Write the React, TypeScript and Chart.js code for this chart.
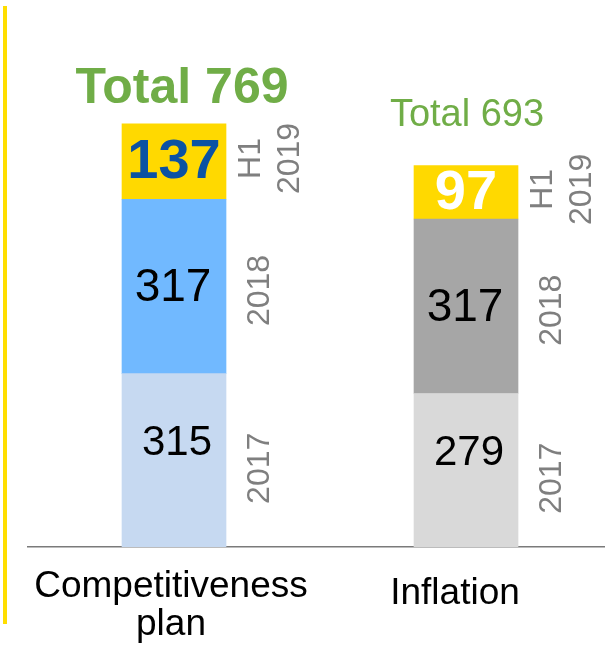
import React, { useEffect, useRef } from "react";
import { Chart, registerables } from "chart.js";

Chart.register(...registerables);

const categories: string[][] = [["Competitiveness", "plan"], ["Inflation"]];
const seriesNames = ["2017", "2018", "H1 2019"];
const values2017 = [315, 279];
const values2018 = [317, 317];
const valuesH1 = [137, 97];
const totals = [769, 693];

const FONT = "'Liberation Sans', Arial, sans-serif";

const colors2017 = ["#c6d9f1", "#d9d9d9"];
const colors2018 = ["#71b9ff", "#a6a6a6"];
const colorsH1 = ["#ffd900", "#ffd900"];

const valueStyles = [
  { font: `42px ${FONT}`, colors: ["#000000", "#000000"], dy: -17, dx: 3 },
  { font: `46px ${FONT}`, colors: ["#000000", "#000000"], dy: 2, dx: -1 },
  { font: `bold 56px ${FONT}`, colors: ["#0b52a3", "#ffffff"], dy: 1, dx: 0 },
];
const yearDy = [8, 4, -3];
const categoryDx = [-3, -11];

const totalStyles = [
  { font: `bold 50px ${FONT}`, dx: 8, gap: 21 },
  { font: `38px ${FONT}`, dx: 1, gap: 40 },
];

const labelPlugin = {
  id: "labels",
  beforeDraw(chart: any) {
    const ctx = chart.ctx;
    ctx.save();
    ctx.fillStyle = "#ffde00";
    ctx.fillRect(3, 6, 4, 618);
    ctx.restore();
  },
  afterDatasetsDraw(chart: any) {
    const ctx = chart.ctx;
    const xScale = chart.scales.x;
    ctx.save();
    chart.data.datasets.forEach((ds: any, di: number) => {
      const meta = chart.getDatasetMeta(di);
      meta.data.forEach((el: any, i: number) => {
        const cy = (el.y + el.base) / 2;
        const st = valueStyles[di];
        ctx.font = st.font;
        ctx.fillStyle = st.colors[i];
        ctx.textAlign = "center";
        ctx.textBaseline = "middle";
        ctx.fillText(String(ds.data[i].y), el.x + st.dx, cy + st.dy);

        const right = el.x + el.width / 2;
        const lines = seriesNames[di].split(" ");
        ctx.font = `32px ${FONT}`;
        ctx.fillStyle = "#7f7f7f";
        const yy = cy + yearDy[di];
        if (lines.length === 1) {
          ctx.save();
          ctx.translate(right + 34, yy);
          ctx.rotate(-Math.PI / 2);
          ctx.fillText(lines[0], 0, 0);
          ctx.restore();
        } else {
          lines.forEach((ln: string, li: number) => {
            ctx.save();
            ctx.translate(right + 25 + li * 39, yy);
            ctx.rotate(-Math.PI / 2);
            ctx.fillText(ln, 0, 0);
            ctx.restore();
          });
        }
      });
    });
    const topMeta = chart.getDatasetMeta(2);
    topMeta.data.forEach((el: any, i: number) => {
      const st = totalStyles[i];
      ctx.font = st.font;
      ctx.fillStyle = "#70ad47";
      ctx.textAlign = "center";
      ctx.textBaseline = "alphabetic";
      ctx.fillText(`Total ${totals[i]}`, el.x + st.dx, el.y - st.gap);
    });
    ctx.font = `37px ${FONT}`;
    ctx.fillStyle = "#000000";
    ctx.textAlign = "center";
    ctx.textBaseline = "alphabetic";
    categories.forEach((lines, i) => {
      const x = xScale.getPixelForValue(i) + categoryDx[i];
      if (lines.length === 1) {
        ctx.fillText(lines[0], x, 604);
      } else {
        lines.forEach((ln, li) => ctx.fillText(ln, x, 597 + li * 38));
      }
    });
    ctx.restore();
  },
};

export default function App() {
  const ref = useRef<HTMLCanvasElement>(null);
  useEffect(() => {
    document.body.style.margin = "0";
    const toXY = (arr: number[]) => arr.map((v, i) => ({ x: i, y: v }));
    const chart = new Chart(ref.current!, {
      type: "bar",
      data: {
        datasets: [
          { label: seriesNames[0], data: toXY(values2017), backgroundColor: colors2017, barThickness: 104 },
          { label: seriesNames[1], data: toXY(values2018), backgroundColor: colors2018, barThickness: 104 },
          { label: seriesNames[2], data: toXY(valuesH1), backgroundColor: colorsH1, barThickness: 104 },
        ] as any,
      },
      options: {
        animation: false,
        responsive: false,
        layout: { padding: { left: 28, right: 0, top: 0, bottom: 0 } },
        plugins: { legend: { display: false }, tooltip: { enabled: false }, title: { display: false } },
        scales: {
          x: {
            type: "linear",
            stacked: true,
            offset: false,
            min: -0.5,
            max: 1.476,
            grid: { display: false, offset: false },
            border: { display: true, color: "#7a7a7a", width: 1.5 },
            ticks: { display: false },
            afterFit: (s: any) => {
              s.height = 98;
            },
          },
          y: {
            stacked: true,
            display: false,
            min: 0,
            max: 994,
          },
        },
      },
      plugins: [labelPlugin],
    });
    return () => chart.destroy();
  }, []);
  return (
    <div style={{ width: 605, height: 645, background: "#ffffff" }}>
      <canvas ref={ref} width={605} height={645} style={{ display: "block" }} />
    </div>
  );
}
